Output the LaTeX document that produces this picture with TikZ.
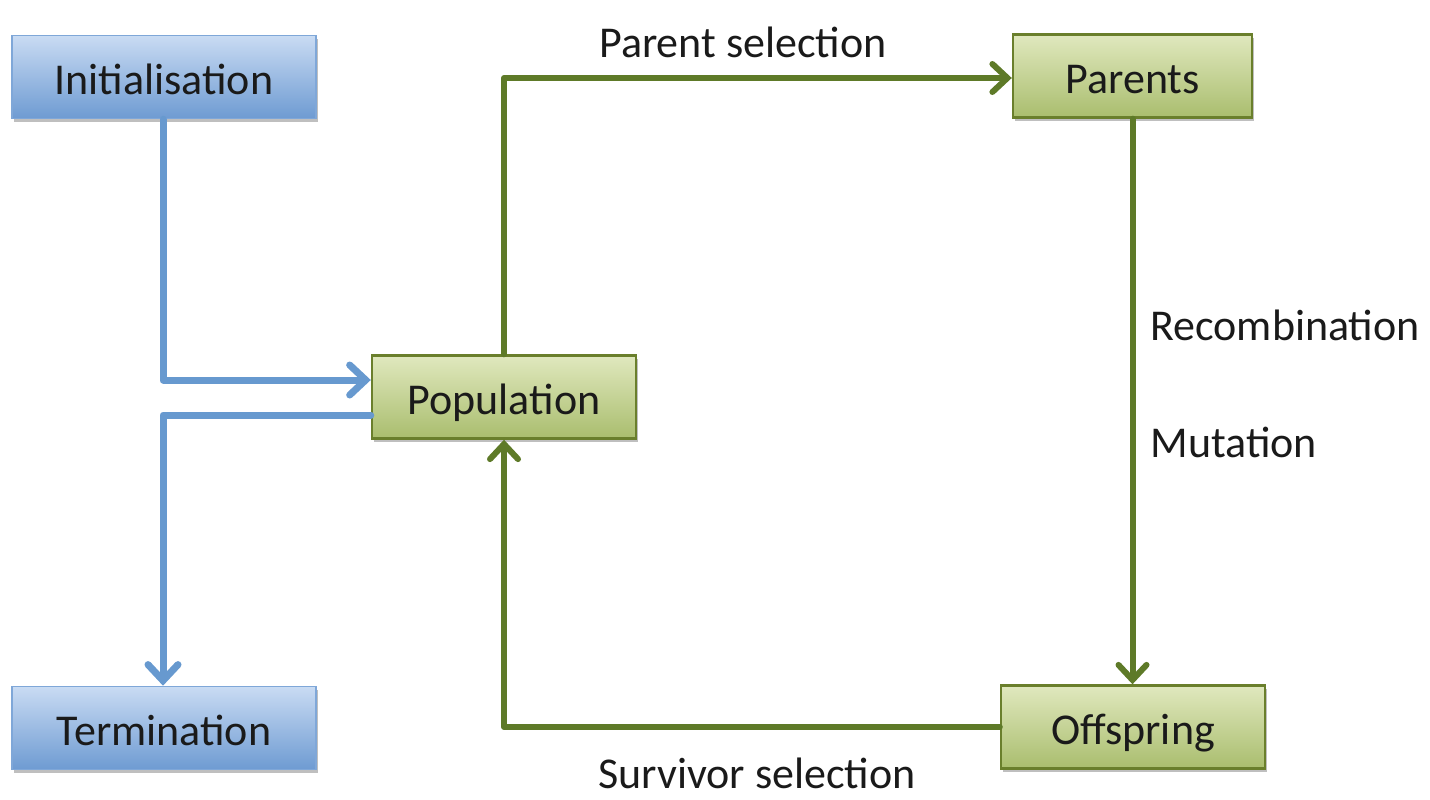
\documentclass[tikz,border=0pt]{standalone}
\usepackage{fontspec}
\setmainfont{Carlito}
\usetikzlibrary{arrows.meta,shadows,calc}
\definecolor{bluetop}{HTML}{C9DBF3}
\definecolor{bluebot}{HTML}{6E9BD2}
\definecolor{blueedge}{HTML}{7FA7D8}
\definecolor{blueline}{HTML}{6799CF}
\definecolor{greentop}{HTML}{E0E8BE}
\definecolor{greenbot}{HTML}{A0B660}
\definecolor{greenedge}{HTML}{6A7F2C}
\definecolor{greenline}{HTML}{5E7A28}
\definecolor{txt}{HTML}{1A1A1A}
\tikzset{
  box/.style={rectangle, minimum height=41.5pt, inner sep=0pt, text height=20pt, text depth=3pt,
    font=\fontsize{22}{26}\selectfont, text=txt,
    drop shadow={shadow xshift=1.2pt, shadow yshift=-1.5pt, opacity=0.25, fill=black}},
  bluebox/.style={box, draw=blueedge, line width=0.8pt, top color=bluetop, bottom color=bluebot},
  greenbox/.style={box, draw=greenedge, line width=1.2pt, top color=greentop, bottom color=greenbot!85!greentop},
  blueflow/.style={draw=blueline, line width=3.5pt, line cap=round, line join=round,
    -{Straight Barb[length=8pt, width=15pt, line cap=round]}},
  greenflow/.style={draw=greenline, line width=3pt, line cap=round, line join=round,
    -{Straight Barb[length=7.5pt, width=14pt, line cap=round]}},
  lbl/.style={font=\fontsize{22}{26}\selectfont, text=txt, inner sep=0pt}
}
\begin{document}
\begin{tikzpicture}[x=0.5pt, y=-0.5pt]
\useasboundingbox (0,0) rectangle (1430,799);
\node[bluebox, minimum width=152pt] (init) at (164,77) {Initialisation};
\node[bluebox, minimum width=152pt] (term) at (164,728) {Termination};
\node[greenbox, minimum width=132pt] (pop) at (504,397) {Population};
\node[greenbox, minimum width=119.5pt] (par) at (1132.5,76) {Parents};
\node[greenbox, minimum width=132pt] (off) at (1133,727) {Offspring};

\node[lbl] (psel) at (743,42) {Parent selection};
\node[lbl, anchor=west] (recomb) at (1150,325) {Recombination};
\node[lbl, anchor=west] (mut) at (1150,442) {Mutation};
\node[lbl] (ssel) at (757,773) {Survivor selection};

\draw[blueflow] ([xshift=-0.5pt]init.south) |- ([yshift=8.5pt]pop.west);
\draw[blueflow] ([yshift=-9pt]pop.west) -| ([xshift=-0.5pt]term.north);
\draw[greenflow] (pop.north) |- ([yshift=-1pt]par.west);
\draw[greenflow] (par.south) -- (par.south |- off.north);
\draw[greenflow] (off.west) -| (pop.south);
\end{tikzpicture}
\end{document}
